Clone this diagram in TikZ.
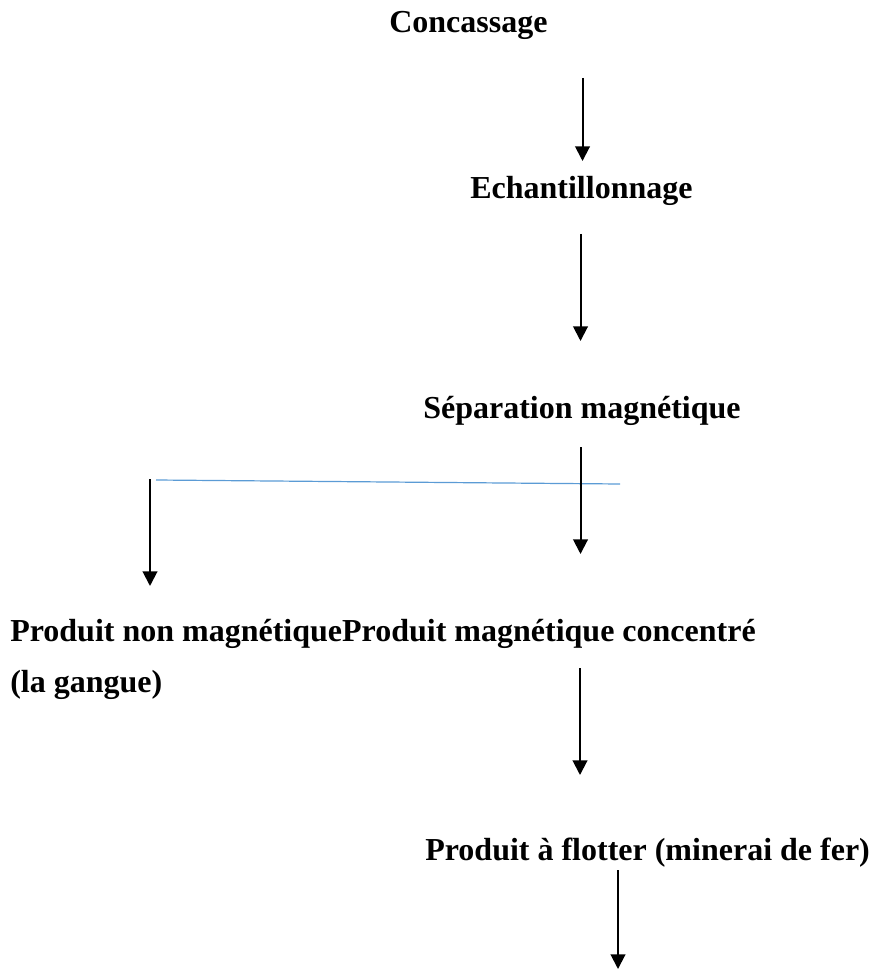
\documentclass[tikz,border=0pt]{standalone}
\usepackage{fontspec}
\setmainfont{Liberation Serif}
\usetikzlibrary{arrows.meta}
\definecolor{lineblue}{HTML}{5B9BD5}
\tikzset{
  lbl/.style={anchor=base west, inner sep=0pt, font=\fontsize{24}{28}\selectfont\bfseries},
  flow/.style={line width=1.5pt, -{Triangle[width=11pt,length=11pt]}},
  split/.style={draw=lineblue, line width=0.9pt}
}
\begin{document}
\begin{tikzpicture}[x=0.75pt,y=-0.75pt]
\useasboundingbox (0,0) rectangle (869,969);
% texts
\node[lbl] (conc) at (389,33) {Concassage};
\node[lbl] (ech) at (470,199) {Echantillonnage};
\node[lbl] (sep) at (423,418) {Séparation magnétique};
\node[lbl] (prod) at (10,641) {Produit non magnétiqueProduit magnétique concentré};
\node[lbl] (gang) at (10,692) {(la gangue)};
\node[lbl] (flot) at (425,860) {Produit à flotter (minerai de fer)};
% arrow coordinates
\coordinate (a1s) at (582.5,78);  \coordinate (a1e) at (582.5,161);
\coordinate (a2s) at (580.5,234); \coordinate (a2e) at (580.5,341);
\coordinate (a3s) at (580.5,447); \coordinate (a3e) at (580.5,554);
\coordinate (a4s) at (150,479);   \coordinate (a4e) at (150,586);
\coordinate (a5s) at (580,668);   \coordinate (a5e) at (580,775);
\coordinate (a6s) at (618,870);   \coordinate (a6e) at (618,969);
\coordinate (bl1) at (156,480);   \coordinate (bl2) at (620,484);
% blue line
\draw[split] (bl1) -- (bl2);
% arrows
\draw[flow] (a1s) -- (a1e);
\draw[flow] (a2s) -- (a2e);
\draw[flow] (a3s) -- (a3e);
\draw[flow] (a4s) -- (a4e);
\draw[flow] (a5s) -- (a5e);
\draw[flow] (a6s) -- (a6e);
\end{tikzpicture}
\end{document}
